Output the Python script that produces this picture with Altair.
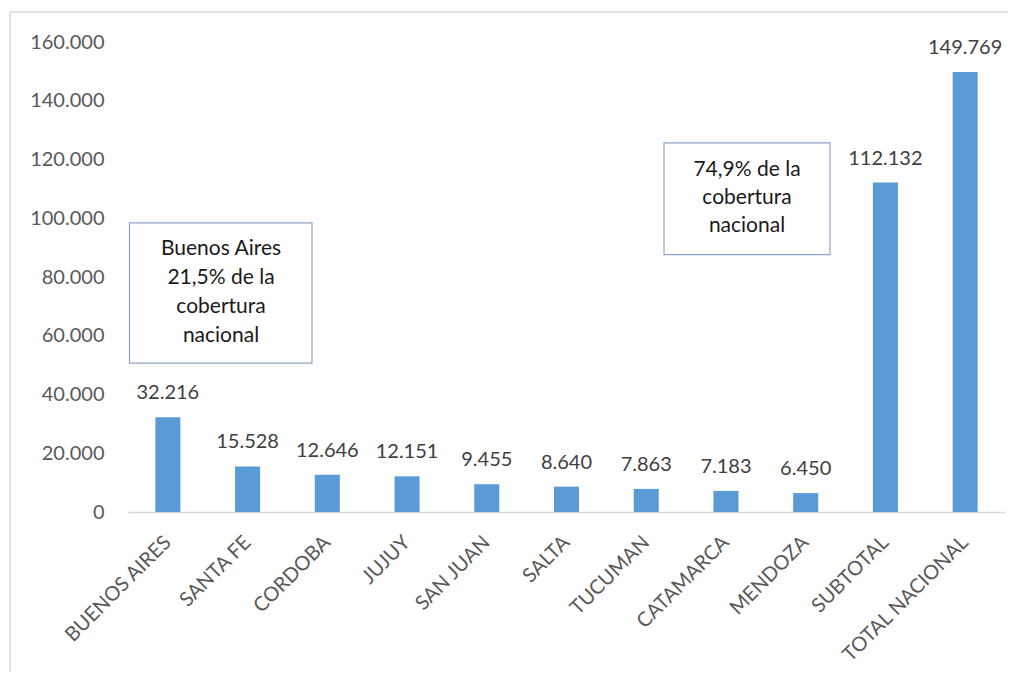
import altair as alt
import pandas as pd

categories = ["BUENOS AIRES", "SANTA FE", "CORDOBA", "JUJUY", "SAN JUAN", "SALTA",
              "TUCUMAN", "CATAMARCA", "MENDOZA", "SUBTOTAL", "TOTAL NACIONAL"]
values = [32216, 15528, 12646, 12151, 9455, 8640, 7863, 7183, 6450, 112132, 149769]
y_ticks = [0, 20000, 40000, 60000, 80000, 100000, 120000, 140000, 160000]
note_texts = ["Buenos Aires\n21,5% de la\ncobertura\nnacional",
              "74,9% de la\ncobertura\nnacional"]

FONT = "Lato"
W, H = 877, 470

df = pd.DataFrame({"cat": categories, "val": values})

base = alt.Chart(df)

x_enc = alt.X("cat:N", sort=categories, title=None,
              scale=alt.Scale(paddingInner=0.0, paddingOuter=0.0),
              axis=alt.Axis(labelAngle=-45, labelAlign="right", labelBaseline="middle",
                            labelFontSize=20, labelColor="#595959", labelFont=FONT,
                            ticks=False, labelPadding=27, domainColor="#D9D9D9",
                            domainWidth=1.5, grid=False))
y_enc = alt.Y("val:Q", title=None,
              scale=alt.Scale(domain=[0, 160000], nice=False),
              axis=alt.Axis(values=y_ticks, grid=False, domain=False, ticks=False,
                            labelFontSize=20, labelColor="#595959", labelFont=FONT,
                            labelPadding=24,
                            labelExpr="replace(format(datum.value, ','), ',', '.')"))

bars = base.mark_bar(color="#5B9BD5", width={"band": 0.314}).encode(x=x_enc, y=y_enc)

labels = base.transform_calculate(
    lbl="replace(format(datum.val, ','), ',', '.')"
).mark_text(font=FONT, fontSize=20, color="#404040", baseline="alphabetic", dy=-18).encode(
    x=alt.X("cat:N", sort=categories), y="val:Q", text="lbl:N")

one = pd.DataFrame({"a": [0]})
border_top = alt.Chart(one).mark_rule(color="#D9D9D9", strokeWidth=1.5).encode(
    x=alt.value(-118), x2=alt.value(W + 100), y=alt.value(-30))
border_left = alt.Chart(one).mark_rule(color="#D9D9D9", strokeWidth=1.5).encode(
    x=alt.value(-118), y=alt.value(-30), y2=alt.value(H + 300))

box_df = pd.DataFrame({"y1": [98400, 125650], "y2": [50700, 87600]})
box1 = alt.Chart(box_df.iloc[[0]]).mark_rect(
    fill="white", stroke="#8EA6C5", strokeWidth=1.2).encode(
    x=alt.value(1.5), x2=alt.value(184), y="y1:Q", y2="y2:Q")
box2 = alt.Chart(box_df.iloc[[1]]).mark_rect(
    fill="white", stroke="#8EA6C5", strokeWidth=1.2).encode(
    x=alt.value(536), x2=alt.value(702), y="y1:Q", y2="y2:Q")

t_df = pd.DataFrame({"t": note_texts, "yc": [89500, 116400]})
text1 = alt.Chart(t_df.iloc[[0]]).mark_text(
    font=FONT, fontSize=21, color="#1a1a1a", lineBreak="\n", lineHeight=29,
    align="center", baseline="middle").encode(x=alt.value(93), y="yc:Q", text="t:N")
text2 = alt.Chart(t_df.iloc[[1]]).mark_text(
    font=FONT, fontSize=21, color="#1a1a1a", lineBreak="\n", lineHeight=28,
    align="center", baseline="middle").encode(x=alt.value(619), y="yc:Q", text="t:N")

chart = alt.layer(border_top, border_left, bars, labels, box1, box2, text1, text2).properties(
    width=W, height=H,
    autosize=alt.AutoSizeParams(type="none"),
    padding={"left": 120, "top": 34, "right": 3, "bottom": 160},
    background="white",
).configure_view(stroke=None)

chart.save("out.html", embed_options={"renderer": "svg", "actions": False})
